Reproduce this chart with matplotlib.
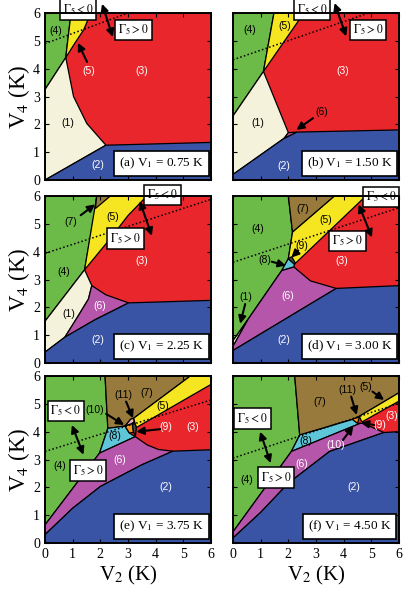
import matplotlib
matplotlib.use("Agg")
import matplotlib.pyplot as plt

plt.rcParams["font.family"] = ["Liberation Serif", "DejaVu Serif"]
plt.rcParams["mathtext.fontset"] = "stix"

# couleurs des phases
GREEN = "#6cbb48"
YELLOW = "#f6e622"
RED = "#e9262b"
CREAM = "#f5f2dc"
BLUE = "#3a54a5"
MAGENTA = "#b556aa"
BROWN = "#987a3c"
CYAN = "#5fc6d9"
ORANGE = "#f5941e"
DARK = "#4a4a4a"
PINK = "#f2b0c8"

V1 = [0.75, 1.50, 2.25, 3.00, 3.75, 4.50]

# frontieres de phase (V2, V4)
A_GREEN = [(0, 3.25), (0.75, 4.4), (0.94, 6), (0, 6)]
A_YELLOW = [(0.75, 4.4), (0.94, 6), (1.65, 6), (1.4, 5.4), (1.1, 4.95)]
A_CREAM = [(0, 0), (0, 3.25), (0.75, 4.4), (1.03, 3.0), (1.51, 2.03), (2.2, 1.25)]
A_BLUE = [(0, 0), (2.2, 1.25), (6, 1.35), (6, 0)]
A_DOT = [(0, 4.9), (6, 7.1)]

B_GREEN = [(0, 2.3), (1.1, 3.9), (1.48, 6), (0, 6)]
B_YELLOW = [(1.1, 3.9), (1.48, 6), (2.56, 6)]
B_CREAM = [(0, 0.2), (0, 2.3), (1.1, 3.9), (2.0, 1.7), (1.85, 1.5)]
B_MAGENTA = [(1.85, 1.5), (2.0, 1.7), (2.3, 1.72)]
B_BLUE = [(0, 0), (0, 0.2), (1.85, 1.5), (2.3, 1.72), (6, 1.8), (6, 0)]
B_DOT = [(0, 4.32), (6, 6.38)]

C_GREEN = [(0, 1.5), (1.43, 3.35), (1.82, 5.55), (1.87, 6), (0, 6)]
C_YELLOW = [(1.43, 3.35), (1.87, 6), (3.68, 6), (3.0, 5.3), (2.3, 4.4)]
C_BROWN = [(1.87, 6), (2.36, 6), (1.82, 5.55)]
C_CREAM = [(0, 0.39), (0, 1.5), (1.43, 3.35), (1.69, 2.78), (1.57, 2.3), (1.21, 1.71), (0.72, 0.93)]
C_MAGENTA = [(0.72, 0.93), (1.21, 1.71), (1.57, 2.3), (1.69, 2.78), (2.2, 2.45), (3.02, 2.16), (1.8, 1.55)]
C_BLUE = [(0, 0), (0, 0.39), (0.72, 0.93), (1.8, 1.55), (3.02, 2.16), (6, 2.25), (6, 0)]
C_DOT = [(0, 3.94), (6, 5.88)]

D_GREEN = [(0, 0.8), (0.55, 1.58), (1.76, 3.32), (2.0, 3.75), (2.15, 4.7), (2.0, 6), (0, 6)]
D_BROWN = [(2.0, 6), (3.67, 6), (2.15, 4.7)]
D_YELLOW = [(2.15, 4.7), (3.67, 6), (4.8, 6), (2.22, 3.55), (2.0, 3.75)]
D_CYAN = [(1.76, 3.32), (2.0, 3.75), (2.22, 3.55), (2.2, 3.45)]
D_DARK = [(2.0, 3.75), (2.12, 3.82), (2.25, 3.6), (2.22, 3.55)]
D_CREAM = [(0, 0.6), (0, 0.8), (0.55, 1.58)]
D_MAGENTA = [(0, 0.45), (0, 0.6), (0.55, 1.58), (1.76, 3.32), (2.2, 3.45), (2.8, 2.95), (3.73, 2.68)]
D_BLUE = [(0, 0), (0, 0.45), (3.73, 2.68), (6, 2.78), (6, 0)]
D_DOT = [(0, 3.62), (6, 5.58)]

E_GREEN = [(0, 0.65), (1.97, 3.23), (2.27, 4.12), (2.17, 6), (0, 6)]
E_BROWN = [(2.17, 6), (5.25, 6), (3.2, 4.48), (3.1, 4.45), (2.89, 4.2), (2.27, 4.12)]
E_YELLOW = [(3.2, 4.48), (5.25, 6), (6, 6), (6, 5.7), (3.3, 4.15)]
E_CYAN = [(1.97, 3.23), (2.27, 4.12), (2.89, 4.2), (3.05, 3.95), (3.26, 3.82)]
E_ORANGE = [(2.89, 4.2), (3.15, 4.3), (3.2, 3.98), (3.05, 3.95)]
E_PINK = [(2.89, 4.2), (3.1, 4.45), (3.2, 4.48), (3.22, 4.35), (3.15, 4.3)]
E_DARK = [(3.15, 4.3), (3.22, 4.35), (3.3, 4.15), (3.27, 3.85), (3.2, 3.98)]
E_MAGENTA = [(0, 0.3), (0, 0.65), (1.97, 3.23), (3.26, 3.82), (3.7, 3.52), (4.1, 3.36), (4.62, 3.3),
             (3.5, 2.81), (2.0, 2.03), (1.0, 1.25)]
E_BLUE = [(0, 0), (0, 0.3), (1.0, 1.25), (2.0, 2.03), (3.5, 2.81), (4.62, 3.3), (6, 3.35), (6, 0)]
E_DOT = [(0, 3.29), (6, 5.14)]

F_GREEN = [(0, 0.4), (2.11, 3.29), (2.41, 3.88), (2.23, 6), (0, 6)]
F_BROWN = [(2.23, 6), (6, 6), (6, 5.4), (4.56, 4.55), (4.35, 4.45), (2.41, 3.88)]
F_YELLOW = [(4.56, 4.55), (6, 5.4), (6, 5.1), (4.66, 4.35)]
F_CYAN = [(2.11, 3.29), (2.41, 3.88), (4.35, 4.45), (4.5, 4.3), (4.6, 4.3)]
F_ORANGE = [(4.3, 4.45), (4.56, 4.52), (4.5, 4.3)]
F_MAGENTA = [(0, 0.18), (0, 0.4), (2.11, 3.29), (4.6, 4.3), (4.7, 4.3), (5.45, 3.97),
             (3.49, 3.29), (2.0, 2.15), (1.0, 1.1)]
F_BLUE = [(0, 0), (0, 0.18), (1.0, 1.1), (2.0, 2.15), (3.49, 3.29), (5.45, 3.97), (6, 4.0), (6, 0)]
F_DOT = [(0, 3.05), (6, 5.02)]

panels = [
    [(A_GREEN, GREEN), (A_YELLOW, YELLOW), (A_CREAM, CREAM), (A_BLUE, BLUE)],
    [(B_GREEN, GREEN), (B_YELLOW, YELLOW), (B_CREAM, CREAM), (B_BLUE, BLUE), (B_MAGENTA, MAGENTA)],
    [(C_GREEN, GREEN), (C_YELLOW, YELLOW), (C_BROWN, BROWN), (C_CREAM, CREAM), (C_MAGENTA, MAGENTA),
     (C_BLUE, BLUE)],
    [(D_GREEN, GREEN), (D_BROWN, BROWN), (D_YELLOW, YELLOW), (D_CYAN, CYAN), (D_DARK, DARK),
     (D_CREAM, CREAM), (D_MAGENTA, MAGENTA), (D_BLUE, BLUE)],
    [(E_GREEN, GREEN), (E_BROWN, BROWN), (E_YELLOW, YELLOW), (E_CYAN, CYAN), (E_ORANGE, ORANGE),
     (E_PINK, PINK), (E_DARK, DARK), (E_MAGENTA, MAGENTA), (E_BLUE, BLUE)],
    [(F_GREEN, GREEN), (F_BROWN, BROWN), (F_YELLOW, YELLOW), (F_CYAN, CYAN), (F_ORANGE, ORANGE),
     (F_MAGENTA, MAGENTA), (F_BLUE, BLUE)],
]
dots = [A_DOT, B_DOT, C_DOT, D_DOT, E_DOT, F_DOT]

W, K = "white", "black"
labels = [
    [("(4)", 0.4, 5.36, K), ("(5)", 1.59, 3.92, W), ("(3)", 3.5, 3.92, W), ("(1)", 0.83, 2.05, K),
     ("(2)", 1.91, 0.54, W)],
    [("(4)", 0.62, 5.38, K), ("(5)", 1.88, 5.52, K), ("(3)", 3.97, 3.93, W), ("(1)", 0.88, 2.06, K),
     ("(2)", 1.82, 0.52, W), ("(6)", 3.19, 2.46, K)],
    [("(7)", 0.94, 5.05, K), ("(5)", 2.45, 5.23, K), ("(4)", 0.66, 3.28, K), ("(3)", 3.5, 3.68, W),
     ("(1)", 0.85, 1.77, K), ("(6)", 1.96, 2.06, W), ("(2)", 1.9, 0.81, W)],
    [("(4)", 0.88, 4.81, K), ("(7)", 2.53, 5.53, K), ("(5)", 3.35, 5.13, K), ("(9)", 2.47, 4.21, K),
     ("(8)", 1.16, 3.71, K), ("(3)", 3.94, 3.68, W), ("(6)", 1.96, 2.42, W), ("(1)", 0.48, 2.36, K),
     ("(2)", 1.84, 0.81, W)],
    [("(11)", 2.84, 5.32, K), ("(7)", 3.68, 5.4, K), ("(5)", 4.25, 4.92, K), ("(10)", 1.81, 4.78, K),
     ("(9)", 4.38, 4.16, W), ("(3)", 5.35, 4.16, W), ("(8)", 2.54, 3.85, K), ("(6)", 2.69, 2.99, W),
     ("(4)", 0.54, 2.75, K), ("(2)", 4.37, 2.0, W)],
    [("(11)", 4.15, 5.5, K), ("(5)", 4.78, 5.62, K), ("(7)", 3.13, 5.08, K), ("(3)", 5.73, 4.58, W),
     ("(9)", 5.32, 4.24, W), ("(8)", 2.63, 3.68, K), ("(10)", 3.7, 3.52, W), ("(6)", 2.47, 2.84, W),
     ("(4)", 0.48, 2.27, K), ("(2)", 4.35, 2.0, W)],
]
# fleches simples (queue -> pointe)
arrows = [
    [((1.52, 4.24), (1.19, 4.93))],
    [((2.89, 2.22), (2.29, 1.8))],
    [((1.29, 5.31), (1.81, 5.7))],
    [((1.4, 3.64), (1.91, 3.5)), ((2.35, 4.03), (2.11, 3.79)), ((0.44, 2.12), (0.26, 1.41))],
    [((2.93, 5.08), (3.18, 4.48)), ((2.21, 4.64), (2.86, 4.24)), ((4.17, 4.09), (3.3, 4.0))],
    [((5.04, 5.44), (5.46, 5.14)), ((4.27, 5.26), (4.47, 4.6)), ((3.97, 3.7), (4.35, 4.2)),
     ((5.1, 4.24), (4.62, 4.32))],
]
doubles = [((2.06, 6.33), (2.45, 5.14)), ((3.67, 6.36), (4.09, 5.16)), ((3.42, 5.82), (3.86, 4.57)),
           ((4.54, 5.7), (5.02, 4.51)), ((0.97, 4.24), (1.39, 3.17)), ((0.98, 4.0), (1.36, 2.87))]
gneg = [(1.19, 6.12), (2.86, 6.13), (4.24, 6.04), (5.35, 5.97), (0.75, 4.75), (0.7, 4.48)]
gpos = [(3.2, 5.4), (4.87, 5.4), (2.9, 4.48), (4.14, 4.39), (1.55, 2.6), (1.55, 2.36)]

fig = plt.figure(figsize=(4.07, 5.89), dpi=100)
lefts = [0.1106, 0.5725]
bottoms = [0.6944, 0.3837, 0.0781]
letters = "abcdef"

for i in range(6):
    r, c = divmod(i, 2)
    ax = fig.add_axes([lefts[c], bottoms[r], 0.408, 0.2835])
    ax.set_xlim(0, 6)
    ax.set_ylim(0, 6)
    ax.fill([0, 6, 6, 0], [0, 0, 6, 6], color=RED, lw=0, zorder=0)
    for poly, col in panels[i]:
        xs = [p[0] for p in poly]
        ys = [p[1] for p in poly]
        ax.fill(xs, ys, facecolor=col, edgecolor="k", lw=0.9, zorder=1)
    d = dots[i]
    ax.plot([d[0][0], d[1][0]], [d[0][1], d[1][1]], ls=(0, (1, 1.5)), color="k", lw=1.1, zorder=2)

    for s, x, y, col in labels[i]:
        ax.text(x, y, s, color=col, fontsize=7.5, ha="center", va="center",
                family=["Liberation Sans", "DejaVu Sans"], zorder=3)
    for tail, tip in arrows[i]:
        ax.annotate("", xy=tip, xytext=tail, zorder=4, annotation_clip=False,
                    arrowprops=dict(arrowstyle="-|>", color="k", lw=1.5, mutation_scale=11,
                                    shrinkA=0, shrinkB=0))
    ta, tb = doubles[i]
    ax.annotate("", xy=tb, xytext=ta, zorder=4, annotation_clip=False,
                arrowprops=dict(arrowstyle="<|-|>", color="k", lw=1.5, mutation_scale=11,
                                shrinkA=0, shrinkB=0))
    bx = dict(boxstyle="square,pad=0.25", fc="white", ec="k", lw=1.1)
    ax.text(gneg[i][0], gneg[i][1], r"$\Gamma_5 < 0$", fontsize=8.5, ha="center", va="center",
            bbox=bx, zorder=5, clip_on=False)
    ax.text(gpos[i][0], gpos[i][1], r"$\Gamma_5 > 0$", fontsize=8.5, ha="center", va="center",
            bbox=bx, zorder=5, clip_on=False)
    ax.text(4.21, 0.6, "(%s) V$_1$ = %.2f K" % (letters[i], V1[i]), fontsize=9.5, ha="center",
            va="center", zorder=5,
            bbox=dict(boxstyle="square,pad=0.35", fc="white", ec="k", lw=1.2))

    ax.set_xticks(range(7))
    ax.set_yticks(range(7))
    ax.tick_params(direction="in", top=True, right=True, length=3, width=0.8, labelsize=10)
    for sp in ax.spines.values():
        sp.set_linewidth(1.4)
        sp.set_zorder(6)
    if c == 0:
        ax.set_ylabel("V$_4$ (K)", fontsize=16.5, labelpad=1)
    else:
        ax.set_yticklabels([])
    if r == 2:
        ax.set_xlabel("V$_2$ (K)", fontsize=15, labelpad=2)
    else:
        ax.set_xticklabels([])

fig.savefig("out.png", dpi=100)
